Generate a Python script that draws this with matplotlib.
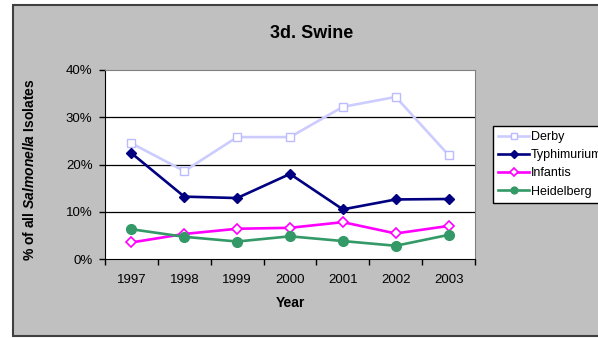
import matplotlib
matplotlib.use("Agg")
import matplotlib.pyplot as plt
from matplotlib.patches import Rectangle
from matplotlib.ticker import FixedLocator, NullFormatter

plt.rcParams['font.family'] = ['Liberation Sans', 'DejaVu Sans']
plt.rcParams['mathtext.fontset'] = 'custom'
plt.rcParams['mathtext.it'] = 'Liberation Sans:italic:bold'
plt.rcParams['mathtext.rm'] = 'Liberation Sans:bold'

years = ['1997', '1998', '1999', '2000', '2001', '2002', '2003']
derby = [24.5, 18.6, 25.8, 25.8, 32.2, 34.3, 22.0]
typhimurium = [22.4, 13.2, 12.9, 18.0, 10.5, 12.6, 12.7]
infantis = [3.5, 5.3, 6.4, 6.6, 7.8, 5.4, 7.0]
heidelberg = [6.3, 4.7, 3.7, 4.8, 3.8, 2.8, 5.1]
y_ticks = [0, 10, 20, 30, 40]

W, H = 598, 338
fig = plt.figure(figsize=(W / 100, H / 100), dpi=100)
fig.patch.set_facecolor('white')

# grey chart area with dark frame
fig.patches.append(Rectangle((13 / W, 2 / H), 1.0, 1 - 7 / H,
                             transform=fig.transFigure, facecolor='#C0C0C0',
                             edgecolor='#404040', linewidth=1.5, zorder=-5))

ax = fig.add_axes([105 / W, 1 - 259 / H, 370 / W, 189 / H])
ax.set_zorder(2)
ax.set_facecolor('white')

x = list(range(len(years)))
ax.plot(x, derby, color='#CCCCFF', lw=1.9, marker='s', ms=5.5,
        mfc='white', mec='#BBBBFF', mew=1.0, label='Derby', zorder=3)
ax.plot(x, typhimurium, color='#000080', lw=1.9, marker='D', ms=5.5,
        mfc='#000080', mec='#000080', label='Typhimurium', zorder=3)
ax.plot(x, infantis, color='#FF00FF', lw=1.9, marker='D', ms=5.5,
        mfc='white', mec='#FF00FF', mew=1.2, label='Infantis', zorder=3)
ax.plot(x, heidelberg, color='#339966', lw=1.9, marker='o', ms=7,
        mfc='#339966', mec='#339966', label='Heidelberg', zorder=3)

ax.set_xlim(-0.5, len(years) - 0.5)
ax.set_ylim(0, 40)
ax.set_yticks(y_ticks)
ax.set_yticklabels([f'{v}%' for v in y_ticks], fontsize=9.5)
ax.set_xticks(x)
ax.set_xticklabels(years, fontsize=9.5)
ax.tick_params(axis='x', which='major', length=0, pad=11)
ax.xaxis.set_minor_locator(FixedLocator([i - 0.5 for i in range(len(years) + 1)]))
ax.xaxis.set_minor_formatter(NullFormatter())
ax.tick_params(axis='x', which='minor', length=4, width=1, color='black', direction='out')
ax.tick_params(axis='y', length=4, width=1, color='black', direction='out', pad=5)

for v in y_ticks[1:-1]:
    ax.axhline(v, color='black', lw=0.9, zorder=1)

ax.spines['left'].set_color('black')
ax.spines['bottom'].set_color('black')
ax.spines['top'].set_color('#808080')
ax.spines['right'].set_color('#808080')

ax.set_ylabel('% of all $\\mathit{Salmonella}$ Isolates', fontsize=10, fontweight='bold')
ax.yaxis.set_label_coords(-0.184, 0.47)
ax.text(0.5, (259 - 303) / 189, 'Year', transform=ax.transAxes, ha='center',
        va='center', fontsize=10, fontweight='bold')

fig.text(312 / W, 1 - 33 / H, '3d. Swine', ha='center', va='center',
         fontsize=13, fontweight='bold')

leg = fig.legend(loc='upper left', bbox_to_anchor=(493 / W, 1 - 126 / H),
                 fontsize=9, frameon=True, fancybox=False, framealpha=1,
                 edgecolor='black', handlelength=2.5, handletextpad=0.1,
                 labelspacing=0.5, borderpad=0.4, borderaxespad=0,
                 markerscale=0.7)
leg.get_frame().set_linewidth(1.0)
leg.set_zorder(3)

fig.savefig('out.png', dpi=100)
